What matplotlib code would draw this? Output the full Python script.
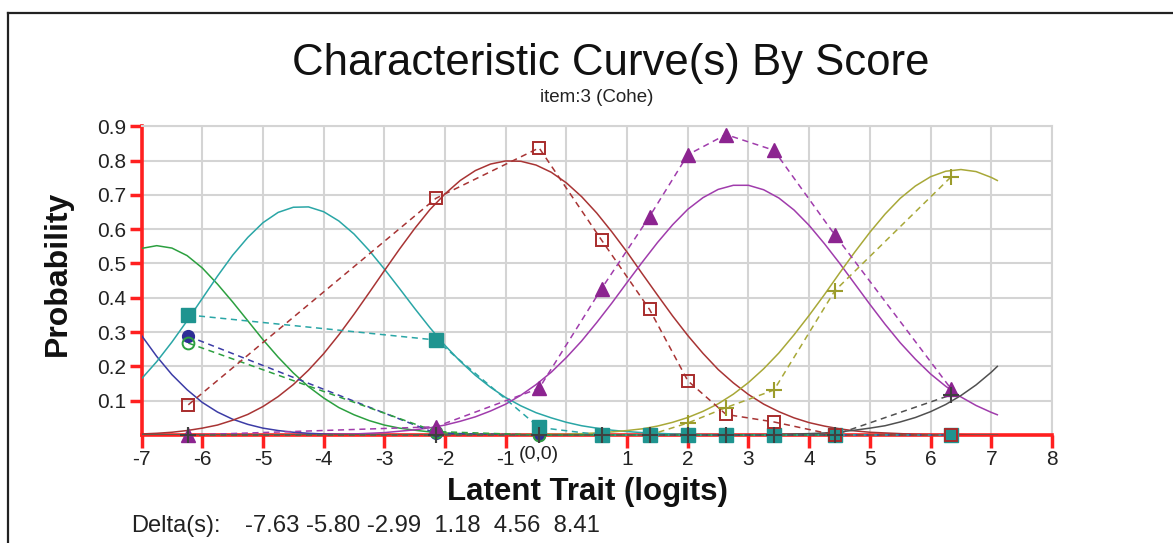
import matplotlib
matplotlib.use('Agg')
import matplotlib.pyplot as plt
from matplotlib.lines import Line2D

plt.rcParams['font.family'] = ['Liberation Sans', 'DejaVu Sans']
plt.rcParams['axes.unicode_minus'] = False

# ---- data ----
theta = [-7.0, -6.75, -6.5, -6.25, -6.0, -5.75, -5.5, -5.25,
         -5.0, -4.75, -4.5, -4.25, -4.0, -3.75, -3.5, -3.25,
         -3.0, -2.75, -2.5, -2.25, -2.0, -1.75, -1.5, -1.25,
         -1.0, -0.75, -0.5, -0.25, 0.0, 0.25, 0.5, 0.75,
         1.0, 1.25, 1.5, 1.75, 2.0, 2.25, 2.5, 2.75,
         3.0, 3.25, 3.5, 3.75, 4.0, 4.25, 4.5, 4.75,
         5.0, 5.25, 5.5, 5.75, 6.0, 6.25, 6.5, 6.75,
         7.0, 7.1]
p0 = [0.290, 0.229, 0.176, 0.132, 0.095, 0.067, 0.046, 0.031,
      0.020, 0.013, 0.008, 0.005, 0.003, 0.002, 0.001, 0.001,
      0.0, 0.0, 0.0, 0.0, 0.0, 0.0, 0.0, 0.0,
      0.0, 0.0, 0.0, 0.0, 0.0, 0.0, 0.0, 0.0,
      0.0, 0.0, 0.0, 0.0, 0.0, 0.0, 0.0, 0.0,
      0.0, 0.0, 0.0, 0.0, 0.0, 0.0, 0.0, 0.0,
      0.0, 0.0, 0.0, 0.0, 0.0, 0.0, 0.0, 0.0,
      0.0, 0.0]
p1 = [0.544, 0.552, 0.545, 0.523, 0.487, 0.440, 0.388, 0.333,
      0.278, 0.227, 0.181, 0.141, 0.108, 0.080, 0.059, 0.042,
      0.029, 0.020, 0.014, 0.009, 0.006, 0.004, 0.002, 0.002,
      0.001, 0.001, 0.0, 0.0, 0.0, 0.0, 0.0, 0.0,
      0.0, 0.0, 0.0, 0.0, 0.0, 0.0, 0.0, 0.0,
      0.0, 0.0, 0.0, 0.0, 0.0, 0.0, 0.0, 0.0,
      0.0, 0.0, 0.0, 0.0, 0.0, 0.0, 0.0, 0.0,
      0.0, 0.0]
p2 = [0.164, 0.214, 0.271, 0.333, 0.398, 0.463, 0.524, 0.576,
      0.619, 0.649, 0.664, 0.665, 0.651, 0.624, 0.586, 0.538,
      0.484, 0.427, 0.369, 0.313, 0.261, 0.215, 0.174, 0.139,
      0.109, 0.085, 0.065, 0.050, 0.037, 0.027, 0.020, 0.014,
      0.010, 0.007, 0.005, 0.003, 0.002, 0.001, 0.001, 0.0,
      0.0, 0.0, 0.0, 0.0, 0.0, 0.0, 0.0, 0.0,
      0.0, 0.0, 0.0, 0.0, 0.0, 0.0, 0.0, 0.0,
      0.0, 0.0]
p3 = [0.003, 0.005, 0.008, 0.013, 0.020, 0.029, 0.043, 0.060,
      0.083, 0.112, 0.147, 0.189, 0.237, 0.292, 0.352, 0.415,
      0.479, 0.542, 0.602, 0.657, 0.703, 0.742, 0.771, 0.790,
      0.799, 0.798, 0.787, 0.766, 0.735, 0.695, 0.647, 0.592,
      0.533, 0.470, 0.408, 0.347, 0.290, 0.238, 0.191, 0.152,
      0.118, 0.090, 0.068, 0.050, 0.036, 0.026, 0.018, 0.012,
      0.008, 0.006, 0.004, 0.002, 0.001, 0.001, 0.001, 0.0,
      0.0, 0.0]
p4 = [0.0, 0.0, 0.0, 0.0, 0.0, 0.0, 0.0, 0.0,
      0.0, 0.0, 0.001, 0.001, 0.001, 0.002, 0.003, 0.005,
      0.007, 0.011, 0.015, 0.021, 0.029, 0.040, 0.053, 0.070,
      0.090, 0.116, 0.147, 0.183, 0.226, 0.274, 0.328, 0.385,
      0.445, 0.504, 0.561, 0.613, 0.658, 0.692, 0.716, 0.728,
      0.728, 0.715, 0.691, 0.656, 0.611, 0.558, 0.501, 0.441,
      0.381, 0.323, 0.269, 0.221, 0.178, 0.142, 0.111, 0.086,
      0.066, 0.059]
p5 = [0.0, 0.0, 0.0, 0.0, 0.0, 0.0, 0.0, 0.0,
      0.0, 0.0, 0.0, 0.0, 0.0, 0.0, 0.0, 0.0,
      0.0, 0.0, 0.0, 0.0, 0.0, 0.0, 0.0, 0.0,
      0.0, 0.001, 0.001, 0.002, 0.002, 0.004, 0.006, 0.009,
      0.013, 0.018, 0.026, 0.037, 0.051, 0.069, 0.091, 0.119,
      0.153, 0.193, 0.239, 0.292, 0.349, 0.409, 0.472, 0.533,
      0.591, 0.644, 0.690, 0.726, 0.753, 0.769, 0.774, 0.768,
      0.751, 0.742]
p6 = [0.0, 0.0, 0.0, 0.0, 0.0, 0.0, 0.0, 0.0,
      0.0, 0.0, 0.0, 0.0, 0.0, 0.0, 0.0, 0.0,
      0.0, 0.0, 0.0, 0.0, 0.0, 0.0, 0.0, 0.0,
      0.0, 0.0, 0.0, 0.0, 0.0, 0.0, 0.0, 0.0,
      0.0, 0.0, 0.0, 0.0, 0.0, 0.0, 0.0, 0.0,
      0.001, 0.001, 0.002, 0.003, 0.004, 0.006, 0.009, 0.014,
      0.020, 0.027, 0.038, 0.051, 0.068, 0.089, 0.115, 0.146,
      0.183, 0.200]

ci_x = [-6.23, -2.15, -0.45, 0.58, 1.37, 2.00, 2.63, 3.42, 4.42, 6.34]
obs0 = [0.288, 0.005, 0.0, 0.0, 0.0, 0.0, 0.0, 0.0, 0.0, 0.0]
obs1 = [0.268, 0.010, 0.0, 0.0, 0.0, 0.0, 0.0, 0.0, 0.0, 0.0]
obs2 = [0.350, 0.277, 0.022, 0.0, 0.0, 0.0, 0.0, 0.0, 0.0, 0.0]
obs3 = [0.088, 0.690, 0.837, 0.568, 0.366, 0.158, 0.060, 0.038, 0.0, 0.0]
obs4 = [0.0, 0.024, 0.136, 0.427, 0.637, 0.817, 0.876, 0.830, 0.584, 0.134]
obs5 = [0.0, 0.0, 0.0, 0.0, 0.0, 0.035, 0.080, 0.131, 0.420, 0.753]
obs6 = [0.0, 0.0, 0.0, 0.0, 0.0, 0.0, 0.0, 0.0, 0.0, 0.117]

deltas = [-7.63, -5.80, -2.99, 1.18, 4.56, 8.41]
x_ticks = list(range(-7, 9))
y_ticks = [0.1, 0.2, 0.3, 0.4, 0.5, 0.6, 0.7, 0.8, 0.9]

title = "Characteristic Curve(s) By Score"
subtitle = "item:3 (Cohe)"

# ---- styles ----
line_colors = ['#3c3ca6', '#2ca040', '#2aa6a6', '#a83434', '#a03cac', '#a8a838', '#505050']
mark_colors = ['#2e2e96', '#2ca040', '#1f9490', '#a82c2c', '#8c2490', '#9c9c2c', '#404040']
markers = ['o', 'o', 's', 's', '^', '+', '+']
msizes = [8.5, 8.5, 9.5, 8.5, 9.5, 11, 11]
filled = [True, False, True, False, True, True, True]

red = '#ff2020'
gridc = '#d4d4d4'

fig = plt.figure(figsize=(11.73, 5.43), dpi=100)
ax = fig.add_axes([0.1207, 0.1989, 0.7761, 0.5685])

curves = [p0, p1, p2, p3, p4, p5, p6]
observed = [obs0, obs1, obs2, obs3, obs4, obs5, obs6]

for k in range(7):
    ax.plot(theta, curves[k], color=line_colors[k], lw=1.1, zorder=3 + k * 0.01)
for k in range(7):
    ax.plot(ci_x, observed[k], color=line_colors[k], lw=1.1, ls=(0, (4, 3)),
            zorder=3.5 + k * 0.01, clip_on=False)
for k in range(7):
    if markers[k] == '+':
        ax.plot(ci_x, observed[k], ls='none', marker='+', ms=msizes[k],
                mew=1.5, color=mark_colors[k], zorder=4 + k * 0.01, clip_on=False)
    elif filled[k]:
        ax.plot(ci_x, observed[k], ls='none', marker=markers[k], ms=msizes[k],
                mfc=mark_colors[k], mec=mark_colors[k], mew=1.0,
                zorder=4 + k * 0.01, clip_on=False)
    else:
        ax.plot(ci_x, observed[k], ls='none', marker=markers[k], ms=msizes[k],
                mfc='none', mec=mark_colors[k], mew=1.4,
                zorder=4 + k * 0.01, clip_on=False)

ax.set_xlim(-7, 8)
ax.set_ylim(0, 0.9)
ax.set_xticks(x_ticks)
ax.set_xticklabels(['' if t == 0 else str(t) for t in x_ticks])
ax.set_yticks(y_ticks)
ax.set_yticklabels([f"{v:.1f}" for v in y_ticks])
ax.grid(True, color=gridc, lw=1.5, zorder=0)
ax.set_axisbelow(True)
ax.tick_params(axis='both', direction='out', length=9, width=2.5, color=red,
               labelsize=15, labelcolor='#222222', pad=2)
for i, t in enumerate(x_ticks):
    if t == 0:
        ax.xaxis.get_major_ticks()[i].tick1line.set_visible(False)

for s in ['left', 'bottom']:
    ax.spines[s].set_color(red)
    ax.spines[s].set_linewidth(2.6)
    ax.spines[s].set_zorder(2.5)
for s in ['top', 'right']:
    ax.spines[s].set_color(gridc)
    ax.spines[s].set_linewidth(1.5)

ax.text(-0.45, -0.036, "(0,0)", transform=ax.get_xaxis_transform(),
        ha='center', va='top', fontsize=14, color='#222222')

fig.text(0.521, 0.8619, title, ha='center', va='baseline', fontsize=31.5, color='#111111')
fig.text(0.509, 0.813, subtitle, ha='center', va='baseline', fontsize=13.5, color='#222222')
fig.text(58 / 1173, 0.4963, "Probability", rotation=90, ha='center', va='center',
         fontsize=23, fontweight='bold', color='#111111')
fig.text(0.5009, 0.0939, "Latent Trait (logits)", ha='center', va='center',
         fontsize=22.5, fontweight='bold', color='#111111')
fig.text(131 / 1173, 0.0203, "Delta(s):", ha='left', va='baseline', fontsize=17,
         color='#222222')
fig.text(245 / 1173, 0.0203, ' '.join(f"{d:5.2f}" for d in deltas), ha='left',
         va='baseline', fontsize=17.2, color='#222222')

# frame of the screenshot (left and top edges)
fig.add_artist(Line2D([8 / 1173, 8 / 1173], [0, 1 - 13 / 543], color='#222222', lw=1.6))
fig.add_artist(Line2D([8 / 1173, 1.0], [1 - 13 / 543, 1 - 13 / 543], color='#222222', lw=1.6))

fig.savefig('out.png', dpi=100)
